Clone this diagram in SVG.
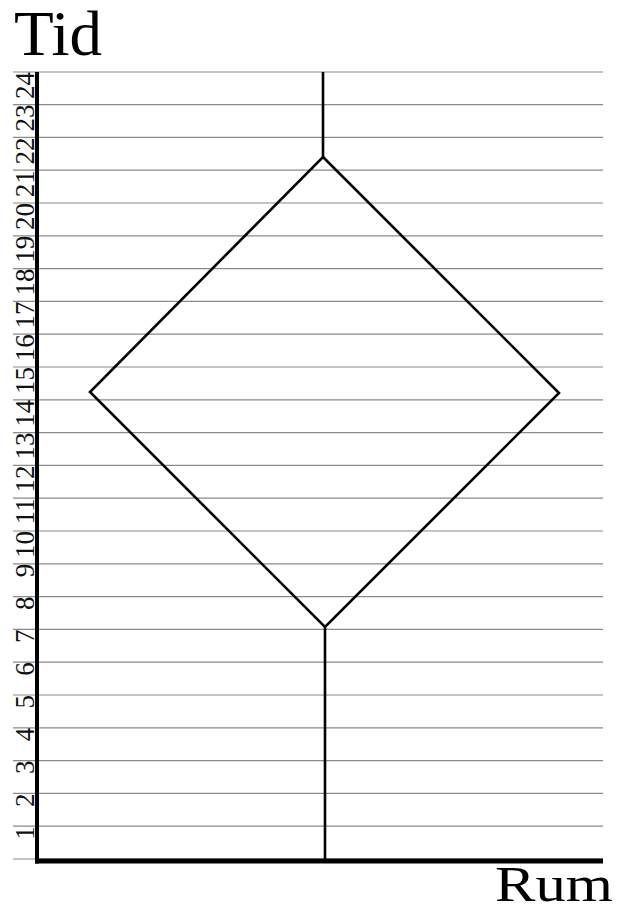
<svg xmlns="http://www.w3.org/2000/svg" width="623" height="912" viewBox="0 0 623 912">
<style>
.grid{stroke:#8a8a8a;stroke-width:1.2;fill:none}
.axis{stroke:#000;fill:none}
.wl{stroke:#000;stroke-width:2.6;fill:none;stroke-linejoin:miter}
.lbl{font-size:27px;fill:#111;text-anchor:end}
.title{fill:#000}
</style>
<rect width="623" height="912" fill="#fff"/>
<g id="grid">
<line class="grid" x1="13" x2="603" y1="859" y2="859"/>
<line class="grid" x1="13" x2="603" y1="826.2" y2="826.2"/>
<line class="grid" x1="13" x2="603" y1="793.4" y2="793.4"/>
<line class="grid" x1="13" x2="603" y1="760.6" y2="760.6"/>
<line class="grid" x1="13" x2="603" y1="727.8" y2="727.8"/>
<line class="grid" x1="13" x2="603" y1="695" y2="695"/>
<line class="grid" x1="13" x2="603" y1="662.2" y2="662.2"/>
<line class="grid" x1="13" x2="603" y1="629.4" y2="629.4"/>
<line class="grid" x1="13" x2="603" y1="596.6" y2="596.6"/>
<line class="grid" x1="13" x2="603" y1="563.8" y2="563.8"/>
<line class="grid" x1="13" x2="603" y1="531" y2="531"/>
<line class="grid" x1="13" x2="603" y1="498.2" y2="498.2"/>
<line class="grid" x1="13" x2="603" y1="465.4" y2="465.4"/>
<line class="grid" x1="13" x2="603" y1="432.6" y2="432.6"/>
<line class="grid" x1="13" x2="603" y1="399.8" y2="399.8"/>
<line class="grid" x1="13" x2="603" y1="367" y2="367"/>
<line class="grid" x1="13" x2="603" y1="334.2" y2="334.2"/>
<line class="grid" x1="13" x2="603" y1="301.4" y2="301.4"/>
<line class="grid" x1="13" x2="603" y1="268.6" y2="268.6"/>
<line class="grid" x1="13" x2="603" y1="235.8" y2="235.8"/>
<line class="grid" x1="13" x2="603" y1="203" y2="203"/>
<line class="grid" x1="13" x2="603" y1="170.2" y2="170.2"/>
<line class="grid" x1="13" x2="603" y1="137.4" y2="137.4"/>
<line class="grid" x1="13" x2="603" y1="104.6" y2="104.6"/>
<line class="grid" x1="13" x2="603" y1="72" y2="72"/>
</g>
<g id="labels" font-family="Liberation Serif, DejaVu Serif, serif">
<text class="lbl" transform="translate(33.5,826.2) rotate(-90)">1</text>
<text class="lbl" transform="translate(33.5,793.4) rotate(-90)">2</text>
<text class="lbl" transform="translate(33.5,760.6) rotate(-90)">3</text>
<text class="lbl" transform="translate(33.5,727.8) rotate(-90)">4</text>
<text class="lbl" transform="translate(33.5,695) rotate(-90)">5</text>
<text class="lbl" transform="translate(33.5,662.2) rotate(-90)">6</text>
<text class="lbl" transform="translate(33.5,629.4) rotate(-90)">7</text>
<text class="lbl" transform="translate(33.5,596.6) rotate(-90)">8</text>
<text class="lbl" transform="translate(33.5,563.8) rotate(-90)">9</text>
<text class="lbl" transform="translate(33.5,531) rotate(-90)">10</text>
<text class="lbl" transform="translate(33.5,498.2) rotate(-90)">11</text>
<text class="lbl" transform="translate(33.5,465.4) rotate(-90)">12</text>
<text class="lbl" transform="translate(33.5,432.6) rotate(-90)">13</text>
<text class="lbl" transform="translate(33.5,399.8) rotate(-90)">14</text>
<text class="lbl" transform="translate(33.5,367) rotate(-90)">15</text>
<text class="lbl" transform="translate(33.5,334.2) rotate(-90)">16</text>
<text class="lbl" transform="translate(33.5,301.4) rotate(-90)">17</text>
<text class="lbl" transform="translate(33.5,268.6) rotate(-90)">18</text>
<text class="lbl" transform="translate(33.5,235.8) rotate(-90)">19</text>
<text class="lbl" transform="translate(33.5,203) rotate(-90)">20</text>
<text class="lbl" transform="translate(33.5,170.2) rotate(-90)">21</text>
<text class="lbl" transform="translate(33.5,137.4) rotate(-90)">22</text>
<text class="lbl" transform="translate(33.5,104.6) rotate(-90)">23</text>
<text class="lbl" transform="translate(33.5,72) rotate(-90)">24</text>
</g>
<g id="axes">
<line class="axis" x1="37" y1="72" x2="37" y2="863.5" stroke-width="4"/>
<line class="axis" x1="35" y1="861" x2="603" y2="861" stroke-width="5"/>
</g>
<g id="worldlines">
<line class="wl" x1="323" y1="72" x2="323" y2="157"/>
<polygon class="wl" points="323,157 559,393 325,627 90,392"/>
<line class="wl" x1="325" y1="627" x2="325" y2="861"/>
</g>
<g id="titles" font-family="Liberation Serif, DejaVu Serif, serif">
<text class="title" x="14" y="55" font-size="63" textLength="88" lengthAdjust="spacingAndGlyphs">Tid</text>
<text class="title" x="495" y="901" font-size="51" textLength="118" lengthAdjust="spacingAndGlyphs">Rum</text>
</g>
</svg>
